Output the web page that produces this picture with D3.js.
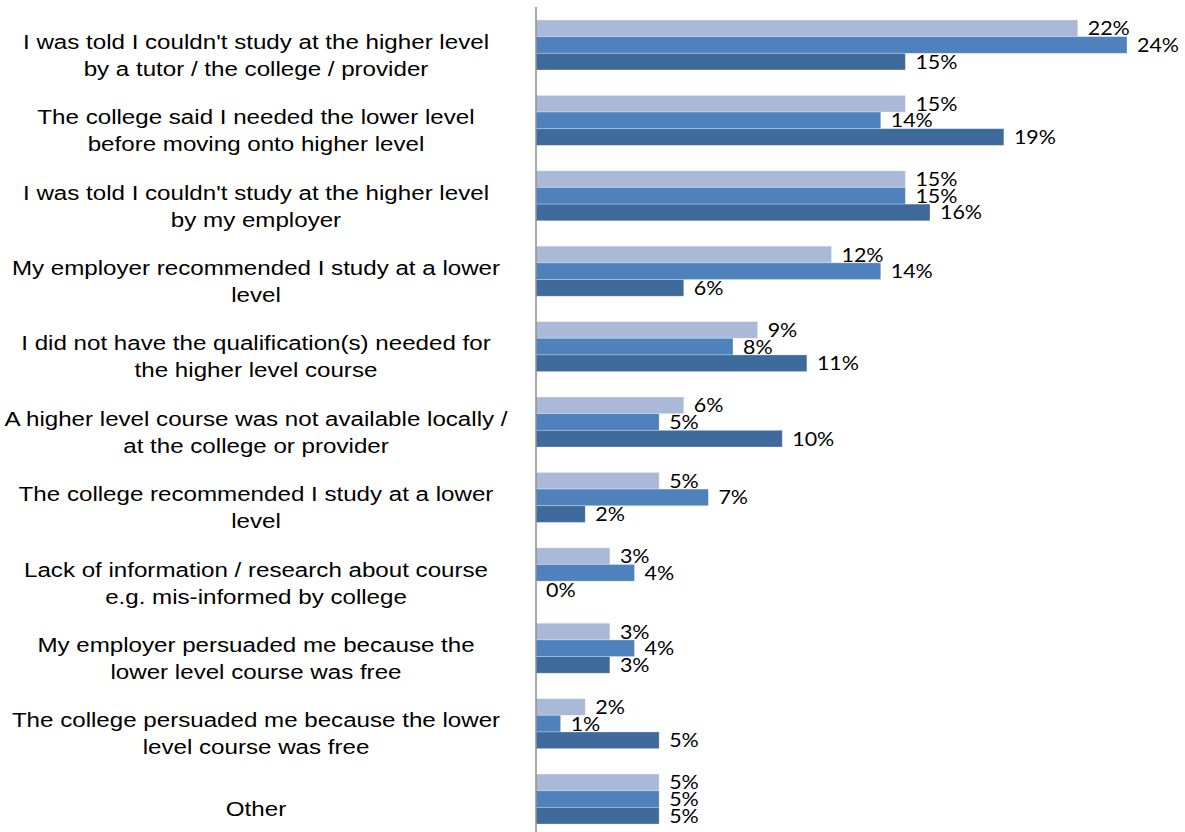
<!DOCTYPE html>
<html>
<head>
<meta charset="utf-8">
<script src="https://cdn.jsdelivr.net/npm/d3@7"></script>
<style>
  html, body { margin: 0; padding: 0; background: #fff; }
  svg { display: block; }
</style>
</head>
<body>
<svg id="chart" width="1185" height="832"></svg>
<script>
const categories = [
  "I was told I couldn't study at the higher level\nby a tutor / the college / provider",
  "The college said I needed the lower level\nbefore moving onto higher level",
  "I was told I couldn't study at the higher level\nby my employer",
  "My employer recommended I study at a lower\nlevel",
  "I did not have the qualification(s) needed for\nthe higher level course",
  "A higher level course was not available locally /\nat the college or provider",
  "The college recommended I study at a lower\nlevel",
  "Lack of information / research about course\ne.g. mis-informed by college",
  "My employer persuaded me because the\nlower level course was free",
  "The college persuaded me because the lower\nlevel course was free",
  "Other"
];
const seriesNames = ["Series 1", "Series 2", "Series 3"];
const series1 = [22, 15, 15, 12, 9, 6, 5, 3, 3, 2, 5];
const series2 = [24, 14, 15, 14, 8, 5, 7, 4, 4, 1, 5];
const series3 = [15, 19, 16, 6, 11, 10, 2, 0, 3, 5, 5];
const seriesColors = ["#AAB9D8", "#4F81BD", "#3F6A9C"];

const allSeries = [series1, series2, series3];
const svg = d3.select("#chart");

const x = d3.scaleLinear().domain([0, 24]).range([536, 1127]);
const y0 = d3.scaleBand().domain(d3.range(categories.length))
  .range([7.3, 836.7]).paddingInner(0.337).paddingOuter(0.168);
const y1 = d3.scaleBand().domain(d3.range(allSeries.length))
  .range([0, y0.bandwidth()]);

const groups = svg.append("g").selectAll("g")
  .data(categories.map((c, i) => ({ c, i })))
  .join("g")
  .attr("transform", d => `translate(0,${y0(d.i)})`);

groups.selectAll("rect")
  .data(d => allSeries.map((s, k) => ({ k, v: s[d.i] })))
  .join("rect")
  .attr("x", x(0))
  .attr("y", d => y1(d.k))
  .attr("width", d => x(d.v) - x(0))
  .attr("height", y1.bandwidth())
  .attr("fill", d => seriesColors[d.k])
  .attr("stroke", d => d.v > 0 ? "rgba(255,255,255,0.35)" : "none")
  .attr("stroke-width", 0.8);

groups.selectAll("text.val")
  .data(d => allSeries.map((s, k) => ({ k, v: s[d.i] })))
  .join("text")
  .attr("class", "val")
  .attr("transform", d => `translate(${x(d.v) + 10},${y1(d.k) + y1.bandwidth() / 2}) scale(1.1,1)`)
  .attr("dy", "0.36em")
  .attr("font-family", "Lato, 'Open Sans', sans-serif")
  .attr("font-size", 19.5)
  .attr("fill", "#000")
  .text(d => d.v + "%");

// category axis line
svg.append("line")
  .attr("x1", x(0)).attr("x2", x(0))
  .attr("y1", 7).attr("y2", 832)
  .attr("stroke", "#8C8C8C").attr("stroke-width", 1.5);

// category labels
const lineH = 27;
const labelG = svg.append("g");
categories.forEach((c, i) => {
  const lines = c.split("\n");
  const cy = y0(i) + y0.bandwidth() / 2 + 10;
  const startY = cy - (lines.length - 1) * lineH / 2;
  const t = labelG.append("text")
    .attr("transform", `translate(256,0) scale(1.15,1)`)
    .attr("text-anchor", "middle")
    .attr("font-family", "'Liberation Sans', Arial, sans-serif")
    .attr("font-size", 21)
    .attr("fill", "#000");
  lines.forEach((ln, j) => {
    t.append("tspan")
      .attr("x", 0)
      .attr("y", startY + j * lineH)
      .attr("dy", "0.35em")
      .text(ln);
  });
});
</script>
</body>
</html>
